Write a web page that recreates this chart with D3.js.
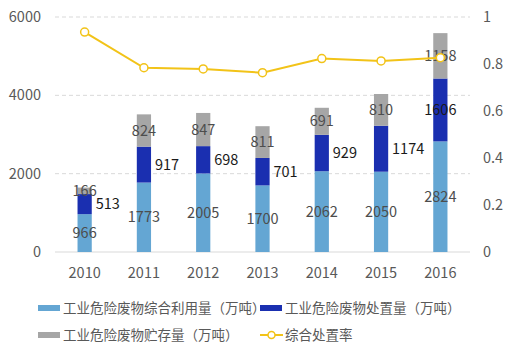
<!DOCTYPE html>
<html>
<head>
<meta charset="utf-8">
<script src="https://cdn.jsdelivr.net/npm/d3@7"></script>
<style>
  body { margin: 0; background: #fff; }
  text { font-family: "Noto Sans CJK SC", "Noto Sans", sans-serif; }
</style>
</head>
<body>
<div id="chart"></div>
<script>
const years = ["2010", "2011", "2012", "2013", "2014", "2015", "2016"];
const utilized = [966, 1773, 2005, 1700, 2062, 2050, 2824];
const disposed = [513, 917, 698, 701, 929, 1174, 1606];
const stored = [166, 824, 847, 811, 691, 810, 1158];
const rate = [0.936, 0.784, 0.779, 0.763, 0.823, 0.813, 0.827];
const leftTicks = [0, 2000, 4000, 6000];
const rightTicks = [0, 0.2, 0.4, 0.6, 0.8, 1];
const seriesNames = ["工业危险废物综合利用量（万吨）", "工业危险废物处置量（万吨）", "工业危险废物贮存量（万吨）", "综合处置率"];

const W = 522, H = 354;
const colors = ["#64a6d3", "#1a2fb0", "#a6a6a6"];
const lineColor = "#f2c318";

const svg = d3.select("#chart").append("svg")
    .attr("width", W)
    .attr("height", H);

const x = d3.scaleBand().domain(years).range([55, 470]).paddingInner(0.76).paddingOuter(0.38);
const y = d3.scaleLinear().domain([0, 6000]).range([252, 17]);
const y2 = d3.scaleLinear().domain([0, 1]).range([252, 17]);

// grid
svg.selectAll("line.grid")
    .data(leftTicks.filter(d => d > 0))
    .enter().append("line")
    .attr("x1", 55).attr("x2", 470)
    .attr("y1", d => y(d)).attr("y2", d => y(d))
    .attr("stroke", "#d9d9d9")
    .attr("stroke-dasharray", "4,3");

svg.append("line")
    .attr("x1", 55).attr("x2", 470)
    .attr("y1", y(0)).attr("y2", y(0))
    .attr("stroke", "#d9d9d9");

// axes labels
svg.selectAll("text.yl")
    .data(leftTicks)
    .enter().append("text")
    .attr("x", 41).attr("y", d => y(d))
    .attr("dy", "0.35em")
    .attr("text-anchor", "end")
    .attr("font-size", 14.5)
    .attr("fill", "#595959")
    .text(d => d);

svg.selectAll("text.yr")
    .data(rightTicks)
    .enter().append("text")
    .attr("x", 483).attr("y", d => y2(d))
    .attr("dy", "0.35em")
    .attr("font-size", 14.5)
    .attr("fill", "#595959")
    .text(d => d);

svg.selectAll("text.xl")
    .data(years)
    .enter().append("text")
    .attr("x", d => x(d) + x.bandwidth() / 2)
    .attr("y", 273)
    .attr("dy", "0.35em")
    .attr("text-anchor", "middle")
    .attr("font-size", 14.5)
    .attr("fill", "#595959")
    .text(d => d);

// stacked bars
const rows = years.map((yr, i) => ({year: yr, u: utilized[i], d: disposed[i], s: stored[i]}));
const stack = d3.stack().keys(["u", "d", "s"])(rows);

const layers = svg.selectAll("g.layer")
    .data(stack)
    .enter().append("g")
    .attr("fill", (d, i) => colors[i]);

layers.selectAll("rect")
    .data(d => d)
    .enter().append("rect")
    .attr("x", d => x(d.data.year))
    .attr("width", x.bandwidth())
    .attr("y", d => y(d[1]))
    .attr("height", d => y(d[0]) - y(d[1]));

// labels
stack.forEach((layer, k) => {
    svg.selectAll("text.lab" + k)
        .data(layer)
        .enter().append("text")
        .attr("x", (d, i) => {
            const c = x(d.data.year) + x.bandwidth() / 2;
            return (k === 1 && i < years.length - 1) ? c + 11 : c;
        })
        .attr("y", d => (y(d[0]) + y(d[1])) / 2)
        .attr("dy", "0.35em")
        .attr("text-anchor", (d, i) => (k === 1 && i < years.length - 1) ? "start" : "middle")
        .attr("font-size", 14.5)
        .attr("fill", k === 1 ? "#1a1a1a" : "#4d4d4d")
        .text(d => d[1] - d[0]);
});

// rate line
const line = d3.line()
    .x((d, i) => x(years[i]) + x.bandwidth() / 2)
    .y(d => y2(d));

svg.append("path")
    .datum(rate)
    .attr("d", line)
    .attr("fill", "none")
    .attr("stroke", lineColor)
    .attr("stroke-width", 2);

svg.selectAll("circle.pt")
    .data(rate)
    .enter().append("circle")
    .attr("cx", (d, i) => x(years[i]) + x.bandwidth() / 2)
    .attr("cy", d => y2(d))
    .attr("r", 4)
    .attr("fill", "#fff")
    .attr("stroke", lineColor)
    .attr("stroke-width", 1.5);

// legend
const legendPos = [[38, 308], [260, 308], [38, 335], [260, 335]];
seriesNames.forEach((name, i) => {
    const [lx, ly] = legendPos[i];
    const g = svg.append("g").attr("transform", `translate(${lx},${ly})`);
    if (i < 3) {
        g.append("rect").attr("x", 0).attr("y", -3).attr("width", 22).attr("height", 6).attr("fill", colors[i]);
    } else {
        g.append("line").attr("x1", 0).attr("x2", 23).attr("y1", 0).attr("y2", 0)
            .attr("stroke", lineColor).attr("stroke-width", 2);
        g.append("circle").attr("cx", 11.5).attr("cy", 0).attr("r", 3.5)
            .attr("fill", "#fff").attr("stroke", lineColor).attr("stroke-width", 1.5);
    }
    g.append("text")
        .attr("x", 25).attr("y", 0).attr("dy", "0.35em")
        .attr("font-size", 13.5)
        .attr("fill", "#595959")
        .text(name);
});
</script>
</body>
</html>
